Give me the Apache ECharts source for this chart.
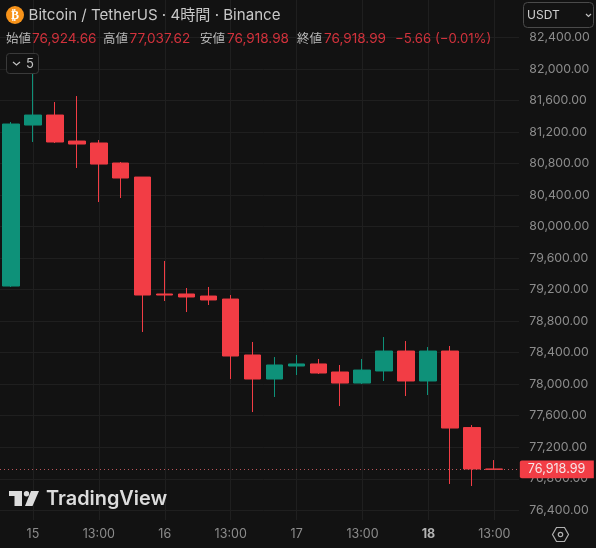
<!DOCTYPE html>
<html><head><meta charset="utf-8">
<style>html,body{margin:0;padding:0;background:#121212}#c{width:596px;height:548px}</style>
<script src="https://cdn.jsdelivr.net/npm/echarts@6/dist/echarts.min.js"></script></head>
<body><div id="c"></div>
<script>
const tickLabels=['','15','','','13:00','','','16','','','13:00','','','17','','','13:00','','','18','','','13:00',''];
const opens =[79246,81289,81416,81086,81061,80807,80629,79145,79145,79119,79081,78371,78066,78231,78257,78155,78015,78168,78421,78041,78421,77450,76924.66];
const closes=[81302,81416,81074,81048,80794,80617,79132,79132,79107,79069,78358,78066,78244,78257,78142,78015,78180,78421,78041,78421,77444,76924.66,76918.99];
const lows  =[79234,81074,81061,80744,80312,80363,78663,79056,78916,79005,78066,77647,77838,78117,78130,77723,78003,78041,77850,77863,76734,76708,76918.98];
const highs =[81327,82000,81581,81657,81099,80820,80629,79564,79221,79234,79132,78536,78345,78371,78320,78244,78320,78599,78548,78472,78485,77482,77037.62];
const lastPrice=76918.99;
const FONT="Inter, 'Noto Sans CJK JP', sans-serif";
const UP='#0E9179',DOWN='#F23D45',BG='#121212',GRID='#1f1f1f';
const candles=opens.map((o,i)=>[o,closes[i],lows[i],highs[i]]);
const fmt=v=>v.toLocaleString('en-US',{minimumFractionDigits:2,maximumFractionDigits:2});
function txt(x,y,s,fill,size,extra){return {type:'text',z:10,silent:true,style:Object.assign({x,y,text:s,fill,font:`${size}px ${FONT}`,textVerticalAlign:'middle'},extra||{})};}
const LBL='#b8b8b8',VAL='#d2323c';
const chart=echarts.init(document.getElementById('c'),null,{renderer:'canvas'});
chart.setOption({
 animation:false,backgroundColor:BG,
 grid:[{left:-1.17,width:528,top:37.5,height:472.8},{left:-0.67,width:528,top:0,height:520}],
 xAxis:[
  {type:'category',gridIndex:0,data:tickLabels.map((t,i)=>i),show:false,boundaryGap:true},
  {type:'category',gridIndex:1,data:tickLabels.map((t,i)=>i),boundaryGap:true,
   axisLine:{show:false},axisTick:{show:false},
   splitLine:{show:true,alignWithLabel:true,interval:i=>tickLabels[i]!=='',lineStyle:{color:GRID,width:1}},
   axisLabel:{show:true,interval:0,margin:8,color:'#8c8c8c',fontFamily:FONT,fontSize:12.5,
    formatter:(v,i)=>tickLabels[i]==='18'?'{b|18}':tickLabels[i],
    rich:{b:{fontWeight:'bold',color:'#b4b4b4',fontFamily:FONT,fontSize:12.5}}}}
 ],
 yAxis:[
  {type:'value',gridIndex:0,position:'right',min:76400,max:82400,interval:400,
   axisLine:{show:false},axisTick:{show:false},
   splitLine:{show:true,lineStyle:{color:GRID,width:1}},
   axisLabel:{margin:2.5,color:'#8c8c8c',fontFamily:FONT,fontSize:12.3,align:'left',padding:[0,0,3,0],formatter:v=>fmt(v)}},
  {type:'value',gridIndex:1,show:false,min:0,max:1}
 ],
 series:[{type:'candlestick',xAxisIndex:0,yAxisIndex:0,data:candles,barWidth:17,clip:false,
  itemStyle:{color:UP,color0:DOWN,borderColor:UP,borderColor0:DOWN,borderWidth:1},
  markLine:{silent:true,symbol:'none',animation:false,
   data:[{yAxis:lastPrice}],
   lineStyle:{color:'#b8555a',type:[1,3],width:1},
   label:{show:true,position:'end',distance:-7,formatter:()=>fmt(lastPrice),color:'#f5e6e7',backgroundColor:DOWN,
    fontFamily:FONT,fontSize:12.6,fontWeight:'normal',padding:[3,7,2,8],width:59,align:'left',borderRadius:[2,0,0,2]}}}],
 graphic:{elements:[
  {type:'rect',z:1,silent:true,shape:{x:519,y:0,width:9,height:548},style:{fill:BG}},
  {type:'circle',z:10,silent:true,shape:{cx:15,cy:15,r:9},style:{fill:'#F7931A'}},
  txt(15,15.5,'₿','#fff',12,{textAlign:'center',font:`bold 12px 'DejaVu Sans'`}),
  txt(28.5,15,'Bitcoin / TetherUS · 4時間 · Binance','#c8c8c8',15.1),
  txt(6,39,'始値',LBL,12.5), txt(32,39,'76,924.66',VAL,13.6),
  txt(103,39,'高値',LBL,12.5), txt(129.5,39,'77,037.62',VAL,13.6),
  txt(200,39,'安値',LBL,12.5), txt(227,39,'76,918.98',VAL,13.6),
  txt(297,39,'終値',LBL,12.5), txt(324,39,'76,918.99',VAL,13.6),
  txt(395,39,'−5.66 (−0.01%)',VAL,13.2),
  {type:'rect',z:10,silent:true,shape:{x:6.5,y:53.5,width:32,height:20,r:3},style:{fill:BG,stroke:'#3a3a3a',lineWidth:1}},
  {type:'polyline',z:11,silent:true,shape:{points:[[13,62],[16.5,65],[20,62]]},style:{fill:'none',stroke:'#c0c0c0',lineWidth:1.2}},
  txt(26,64,'5','#c0c0c0',13),
  {type:'rect',z:10,silent:true,shape:{x:523.5,y:2.5,width:70,height:25,r:4},style:{fill:BG,stroke:'#4a4a4a',lineWidth:1}},
  txt(527,15,'USDT','#d0d0d0',12),
  {type:'polyline',z:11,silent:true,shape:{points:[[586,14],[588.5,16.5],[591,14]]},style:{fill:'none',stroke:'#c0c0c0',lineWidth:1.2}},
  {type:'polygon',z:10,silent:true,shape:{points:[[552.5,534.5],[556.5,527.5],[564.5,527.5],[568.5,534.5],[564.5,541.5],[556.5,541.5]]},style:{fill:'none',stroke:'#b0b0b0',lineWidth:1.2}},
  {type:'circle',z:10,silent:true,shape:{cx:560.5,cy:534.5,r:2.2},style:{fill:'none',stroke:'#b0b0b0',lineWidth:1.2}},
  {type:'polygon',z:10,silent:true,shape:{points:[[9,491],[22,491],[22,506],[14.5,506],[14.5,496],[9,496]]},style:{fill:'#dcdcdc'}},
  {type:'circle',z:10,silent:true,shape:{cx:26.5,cy:493.7,r:2.7},style:{fill:'#dcdcdc'}},
  {type:'polygon',z:10,silent:true,shape:{points:[[31,491],[39,491],[32.5,506],[25,506]]},style:{fill:'#dcdcdc'}},
  txt(46,499,'TradingView','#dcdcdc',19.9,{font:`600 19.9px ${FONT}`})
 ]}
});
</script></body></html>
